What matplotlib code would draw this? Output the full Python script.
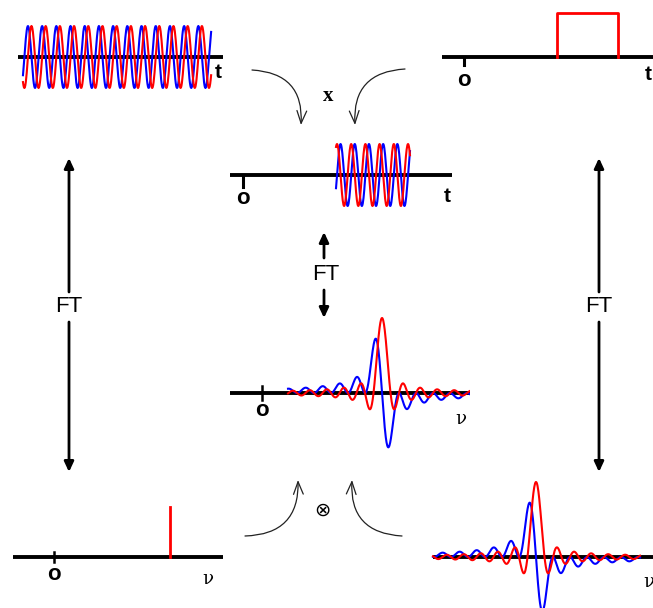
import numpy as np
import matplotlib.pyplot as plt

W, H = 653, 608
BLUE, RED = '#0000ff', '#ff0000'

# --- values ---
# time panels: t in carrier periods
sig_t = [0.35, 13.6]        # extent of the long cos/sin signal
sig_t_peak = 0.70           # first maximum of the blue trace
win_t = [6.55, 10.85]       # rectangular window (top right)
win_h = 1.0
prod_t = [6.55, 11.76]      # truncated signal (middle)
prod_t_peak = 6.62          # first maximum of the red trace
# frequency panels: nu in units of 1/T
delta_nu = 6.82             # spectral line of the long signal
delta_h = 0.67
spec_nu0 = 7.06             # centre of the truncated-signal spectrum
spec_nu = [1.53, 12.24]
rect_nu = [-6.06, 6.12]     # spectrum of the window


def panel(left, right, top, bottom, x0, y0, xs, ys):
    ax = fig.add_axes([left / W, 1 - bottom / H, (right - left) / W, (bottom - top) / H])
    ax.set_xlim((left - x0) / xs, (right - x0) / xs)
    ax.set_ylim((y0 - bottom) / ys, (y0 - top) / ys)
    ax.axis('off')
    ax.axhline(0, color='black', lw=2.8, zorder=1)
    return ax


def spectrum(nu, nu0):
    phi = 2 * np.pi * (nu - nu0)
    phi = np.where(phi == 0, 1e-9, phi)
    return np.sin(phi) / phi, (np.cos(phi) - 1) / phi


fig = plt.figure(figsize=(W / 100, H / 100), dpi=100)

# top left: cos / sin
ax = panel(18, 223, 15, 100, 18, 57, 14.2, 31)
t = np.linspace(sig_t[0], sig_t[1], 400)
ax.plot(t, np.cos(2 * np.pi * (t - sig_t_peak)), color=BLUE, lw=1.5)
ax.plot(t, np.sin(2 * np.pi * (t - sig_t_peak)), color=RED, lw=1.5)

# top right: window
ax = panel(442, 653, 5, 100, 464, 57, 14.2, 44)
ax.plot([win_t[0], win_t[0], win_t[1], win_t[1]], [0, win_h, win_h, 0], color=RED, lw=2)
ax.plot([0, 0], [0, -0.18], color='black', lw=2.2)

# middle: truncated signal
ax = panel(230, 452, 135, 215, 243, 175, 14.2, 31)
t = np.linspace(prod_t[0], prod_t[1], 200)
ax.plot(t, np.sin(2 * np.pi * (t - prod_t_peak)), color=BLUE, lw=1.5)
ax.plot(t, np.cos(2 * np.pi * (t - prod_t_peak)), color=RED, lw=1.5)
ax.plot([0, 0], [0, -0.38], color='black', lw=2.2)

# middle: its spectrum
ax = panel(230, 470, 300, 460, 262, 393, 17, 75)
nu = np.linspace(spec_nu[0], spec_nu[1], 500)
re, im = spectrum(nu, spec_nu0)
ax.plot(nu, im, color=BLUE, lw=1.5)
ax.plot(nu, re, color=RED, lw=1.5)
ax.plot([0, 0], [-0.09, 0.09], color='black', lw=1.8)

# bottom left: spectral line
ax = panel(13, 223, 490, 600, 54, 557, 17, 75)
ax.plot([delta_nu, delta_nu], [0, delta_h], color=RED, lw=2)
ax.plot([0, 0], [-0.07, 0.07], color='black', lw=1.8)

# bottom right: spectrum of the window
ax = panel(433, 653, 470, 608, 536, 557, 17, 75)
nu = np.linspace(rect_nu[0], rect_nu[1], 500)
re, im = spectrum(nu, 0)
ax.plot(nu, im, color=BLUE, lw=1.5, clip_on=False)
ax.plot(nu, re, color=RED, lw=1.5, clip_on=False)

# overlay for labels and arrows (pixel coordinates)
ov = fig.add_axes([0, 0, 1, 1])
ov.set_xlim(0, W)
ov.set_ylim(H, 0)
ov.axis('off')
ov.patch.set_alpha(0)

for x, y in [(218, 73), (648, 75), (447, 196)]:
    ov.text(x, y, 't', fontsize=15, fontweight='bold', family='Liberation Sans', ha='center', va='center')
for x, y in [(464, 81), (243, 199), (262, 410), (54, 575)]:
    ov.text(x, y, 'o', fontsize=16, fontweight='bold', family='Liberation Sans', ha='center', va='center')
for x, y in [(461, 419), (208, 579), (649, 582)]:
    ov.text(x, y, 'ν', fontsize=13, family='DejaVu Serif', ha='center', va='center')
for x, y in [(69, 306), (599, 306), (326, 275)]:
    ov.text(x, y, 'FT', fontsize=16, family='Liberation Sans', ha='center', va='center')
ov.text(328, 96, 'x', fontsize=15, fontweight='bold', family='Liberation Serif', ha='center', va='center')
ov.text(322, 510, '⊗', fontsize=14, family='DejaVu Sans', ha='center', va='center')

straight = dict(arrowstyle='-|>,head_length=0.6,head_width=0.28', lw=2, color='black',
                shrinkA=0, shrinkB=0)
for x, y0, y1 in [(69, 292, 158), (69, 322, 472), (599, 292, 158), (599, 322, 472),
                  (324, 258, 232), (324, 290, 318)]:
    ov.annotate('', xy=(x, y1), xytext=(x, y0), arrowprops=straight)

for start, end, rad in [((252, 70), (301, 125), -0.5), ((405, 69), (355, 125), 0.5),
                        ((245, 536), (298, 480), 0.5), ((402, 536), (352, 480), -0.5)]:
    ov.annotate('', xy=end, xytext=start,
                arrowprops=dict(arrowstyle='->,head_length=0.9,head_width=0.35', lw=0.9,
                                color='#222222', shrinkA=0, shrinkB=0,
                                connectionstyle='arc3,rad=%g' % rad))

fig.savefig('out.png', dpi=100)
